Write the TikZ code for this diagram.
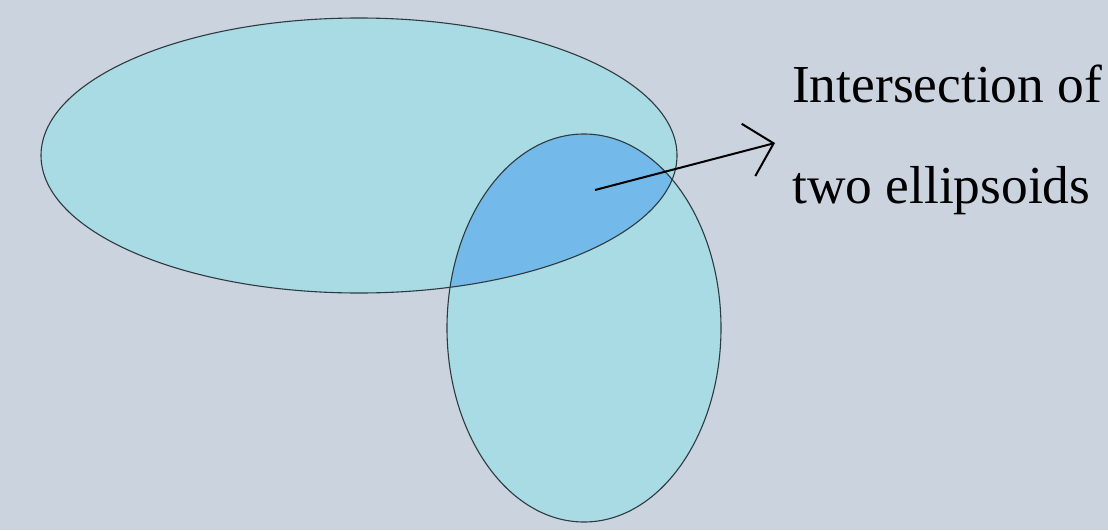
\documentclass[tikz,border=0pt]{standalone}
\usepackage{fontspec}
\setmainfont{Liberation Serif}
\usetikzlibrary{arrows.meta}
\definecolor{bg}{HTML}{CBD3DF}
\definecolor{ell}{HTML}{A8DBE4}
\definecolor{inter}{HTML}{73B9E9}
\definecolor{edge}{HTML}{2E3A3E}
\tikzset{
  ellfill/.style={fill=ell},
  elledge/.style={draw=edge, line width=1.1pt},
  label/.style={anchor=base west, inner sep=0pt, font=\fontsize{53.4}{60}\selectfont, text=black},
  pointer/.style={line width=2pt, -{Straight Barb[length=26pt,width=54pt,line width=2pt]}}
}
\begin{document}
\begin{tikzpicture}[x=1pt,y=-1pt]
  \fill[bg] (0,0) rectangle (1108,530);
  \useasboundingbox (0,0) rectangle (1108,530);
  % ellipse fills
  \fill[ellfill] (359,155.5) ellipse [x radius=318pt, y radius=137.5pt];
  \fill[ellfill] (584,328) ellipse [x radius=137pt, y radius=194pt];
  % intersection
  \begin{scope}
    \clip (359,155.5) ellipse [x radius=318pt, y radius=137.5pt];
    \fill[inter] (584,328) ellipse [x radius=137pt, y radius=194pt];
  \end{scope}
  % outlines
  \draw[elledge] (359,155.5) ellipse [x radius=318pt, y radius=137.5pt];
  \draw[elledge] (584,328) ellipse [x radius=137pt, y radius=194pt];
  % label and arrow
  \node[label] (l1) at (792,102) {Intersection of};
  \node[label] (l2) at (792,203) {two ellipsoids};
  \coordinate (from) at (595,190);
  \coordinate (to) at (775,143);
  \draw[pointer] (from) -- (to);
\end{tikzpicture}
\end{document}
